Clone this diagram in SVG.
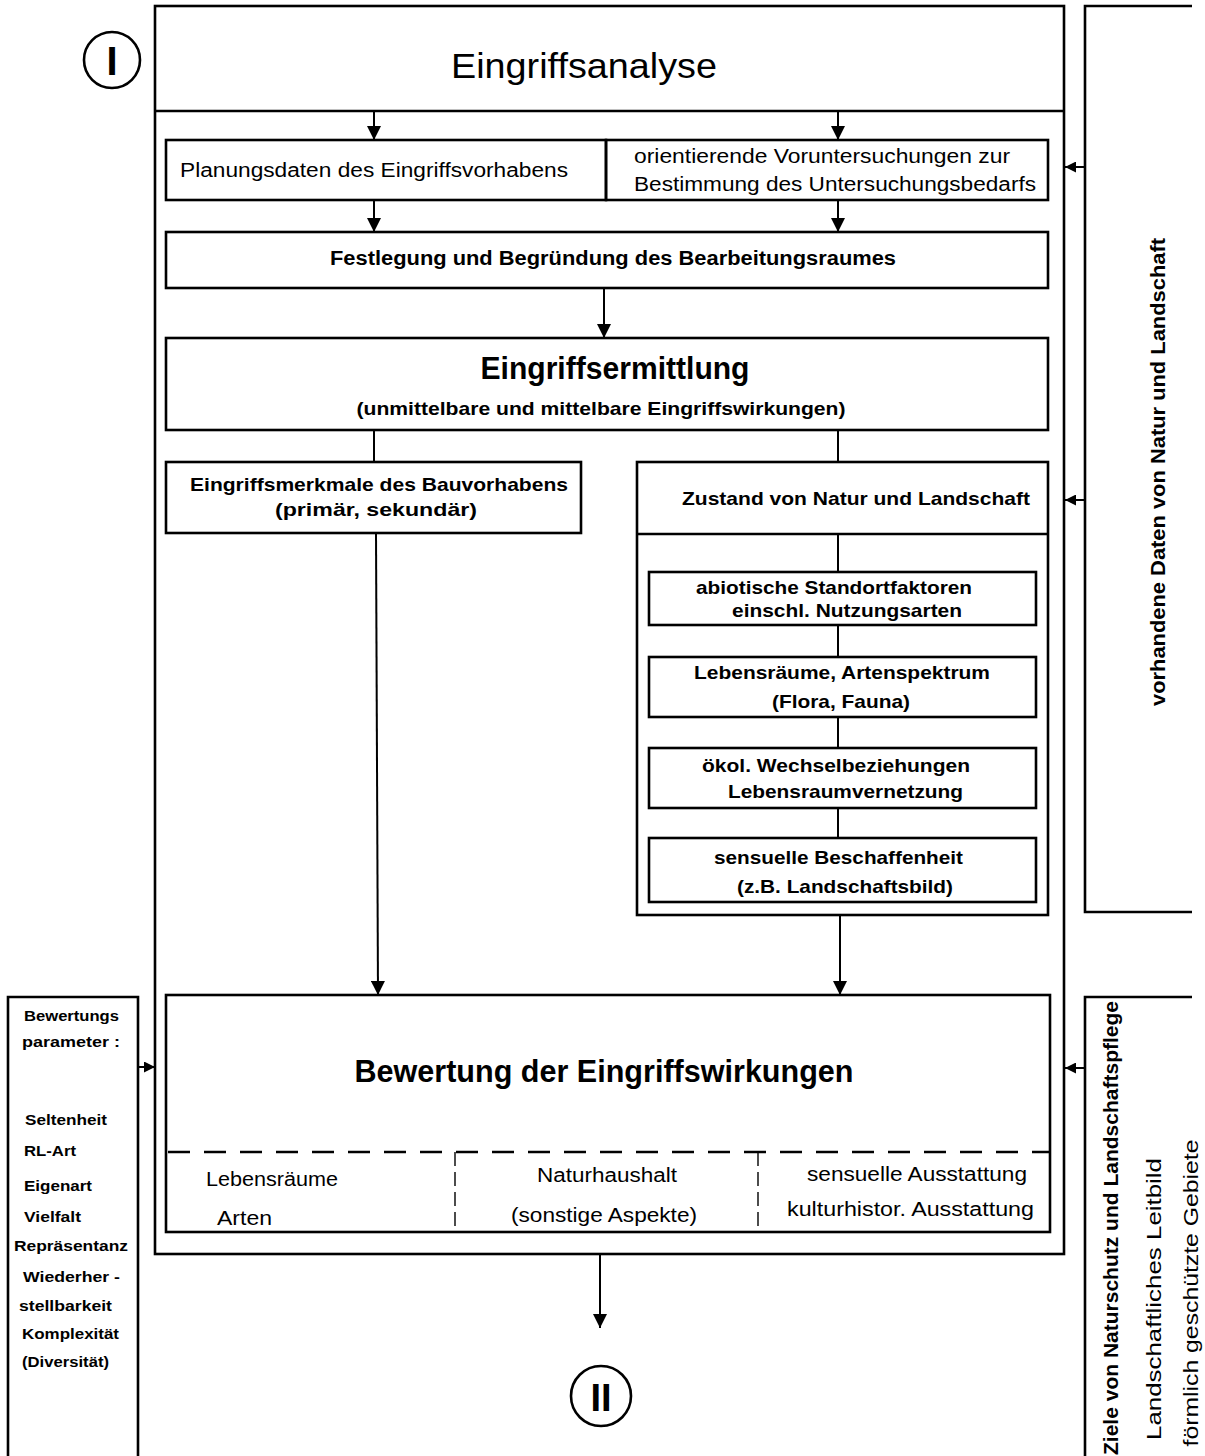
<svg xmlns="http://www.w3.org/2000/svg" width="1205" height="1456" viewBox="0 0 1205 1456">
  <style>
    .box { fill: none; stroke: #000; stroke-width: 2.6; }
    .ln { fill: none; stroke: #000; stroke-width: 2; }
    .thin { fill: none; stroke: #000; stroke-width: 1.4; }
    .t { font-family: "Liberation Sans", Arial, sans-serif; fill: #000; }
    .b { font-weight: bold; }
  </style>
  <defs>
    <marker id="arr" viewBox="0 0 10 10" refX="10" refY="5" markerWidth="14" markerHeight="14" markerUnits="userSpaceOnUse" orient="auto">
      <path d="M0,0 L10,5 L0,10 Z" fill="#000"/>
    </marker>
    <marker id="arrS" viewBox="0 0 10 10" refX="10" refY="5" markerWidth="11" markerHeight="11" markerUnits="userSpaceOnUse" orient="auto">
      <path d="M0,0 L10,5 L0,10 Z" fill="#000"/>
    </marker>
  </defs>

  <rect width="1205" height="1456" fill="#fff"/>

  <!-- chapter markers -->
  <g id="mark-I">
    <circle cx="112" cy="60" r="28" class="box"/>
    <text x="112" y="75" class="t b" font-size="40" text-anchor="middle">I</text>
  </g>
  <g id="mark-II">
    <circle cx="601" cy="1396" r="30" class="box"/>
    <text x="601" y="1411" class="t b" font-size="38" text-anchor="middle">II</text>
  </g>

  <!-- main frame -->
  <g id="frame">
    <rect x="155" y="6" width="909" height="1248" class="box"/>
    <line x1="155" y1="111" x2="1064" y2="111" class="box"/>
    <text x="584" y="78" class="t" font-size="35" text-anchor="middle" textLength="266" lengthAdjust="spacingAndGlyphs">Eingriffsanalyse</text>
  </g>

  <g id="planungsdaten">
    <rect x="166" y="140" width="440" height="60" class="box"/>
    <text x="180" y="177" class="t" font-size="20" textLength="388" lengthAdjust="spacingAndGlyphs">Planungsdaten des Eingriffsvorhabens</text>
  </g>
  <g id="voruntersuchungen">
    <rect x="606" y="140" width="442" height="60" class="box"/>
    <text x="634" y="163" class="t" font-size="20" textLength="376" lengthAdjust="spacingAndGlyphs">orientierende Voruntersuchungen zur</text>
    <text x="634" y="191" class="t" font-size="20" textLength="402" lengthAdjust="spacingAndGlyphs">Bestimmung des Untersuchungsbedarfs</text>
  </g>
  <g id="bearbeitungsraum">
    <rect x="166" y="232" width="882" height="56" class="box"/>
    <text x="330" y="265" class="t b" font-size="20" textLength="566" lengthAdjust="spacingAndGlyphs">Festlegung und Begründung des Bearbeitungsraumes</text>
  </g>
  <g id="eingriffsermittlung">
    <rect x="166" y="338" width="882" height="92" class="box"/>
    <text x="615" y="379" class="t b" font-size="31" text-anchor="middle" textLength="269" lengthAdjust="spacingAndGlyphs">Eingriffsermittlung</text>
    <text x="601" y="415" class="t b" font-size="19" text-anchor="middle" textLength="489" lengthAdjust="spacingAndGlyphs">(unmittelbare und mittelbare Eingriffswirkungen)</text>
  </g>
  <g id="eingriffsmerkmale">
    <rect x="166" y="462" width="415" height="71" class="box"/>
    <text x="190" y="491" class="t b" font-size="19" textLength="378" lengthAdjust="spacingAndGlyphs">Eingriffsmerkmale des Bauvorhabens</text>
    <text x="275" y="516" class="t b" font-size="19" textLength="202" lengthAdjust="spacingAndGlyphs">(primär, sekundär)</text>
  </g>
  <g id="zustand">
    <rect x="637" y="462" width="411" height="453" class="box"/>
    <line x1="637" y1="534" x2="1048" y2="534" class="box"/>
    <text x="682" y="505" class="t b" font-size="19" textLength="348" lengthAdjust="spacingAndGlyphs">Zustand von Natur und Landschaft</text>
  </g>
  <g id="abiotik">
    <rect x="649" y="572" width="387" height="53" class="box"/>
    <text x="696" y="594" class="t b" font-size="19" textLength="276" lengthAdjust="spacingAndGlyphs">abiotische Standortfaktoren</text>
    <text x="732" y="617" class="t b" font-size="19" textLength="230" lengthAdjust="spacingAndGlyphs">einschl. Nutzungsarten</text>
  </g>
  <g id="lebensraeume">
    <rect x="649" y="657" width="387" height="60" class="box"/>
    <text x="694" y="679" class="t b" font-size="19" textLength="296" lengthAdjust="spacingAndGlyphs">Lebensräume, Artenspektrum</text>
    <text x="772" y="708" class="t b" font-size="19" textLength="138" lengthAdjust="spacingAndGlyphs">(Flora, Fauna)</text>
  </g>
  <g id="wechselbeziehungen">
    <rect x="649" y="748" width="387" height="60" class="box"/>
    <text x="702" y="772" class="t b" font-size="19" textLength="268" lengthAdjust="spacingAndGlyphs">ökol. Wechselbeziehungen</text>
    <text x="728" y="798" class="t b" font-size="19" textLength="235" lengthAdjust="spacingAndGlyphs">Lebensraumvernetzung</text>
  </g>
  <g id="sensuell">
    <rect x="649" y="838" width="387" height="64" class="box"/>
    <text x="714" y="864" class="t b" font-size="19" textLength="249" lengthAdjust="spacingAndGlyphs">sensuelle Beschaffenheit</text>
    <text x="737" y="893" class="t b" font-size="19" textLength="216" lengthAdjust="spacingAndGlyphs">(z.B. Landschaftsbild)</text>
  </g>

  <g id="bewertung">
    <rect x="166" y="995" width="884" height="237" class="box"/>
    <text x="604" y="1082" class="t b" font-size="31" text-anchor="middle" textLength="499" lengthAdjust="spacingAndGlyphs">Bewertung der Eingriffswirkungen</text>
    <line x1="168" y1="1152" x2="1050" y2="1152" class="box" stroke-dasharray="22 14"/>
    <line x1="455" y1="1152" x2="455" y2="1232" class="thin" stroke-dasharray="14 6"/>
    <line x1="758" y1="1152" x2="758" y2="1232" class="thin" stroke-dasharray="14 6"/>
    <text x="206" y="1186" class="t" font-size="20" textLength="132" lengthAdjust="spacingAndGlyphs">Lebensräume</text>
    <text x="217" y="1225" class="t" font-size="20" textLength="55" lengthAdjust="spacingAndGlyphs">Arten</text>
    <text x="537" y="1182" class="t" font-size="20" textLength="140" lengthAdjust="spacingAndGlyphs">Naturhaushalt</text>
    <text x="511" y="1222" class="t" font-size="20" textLength="186" lengthAdjust="spacingAndGlyphs">(sonstige Aspekte)</text>
    <text x="807" y="1181" class="t" font-size="20" textLength="220" lengthAdjust="spacingAndGlyphs">sensuelle Ausstattung</text>
    <text x="787" y="1216" class="t" font-size="20" textLength="247" lengthAdjust="spacingAndGlyphs">kulturhistor. Ausstattung</text>
  </g>

  <!-- evaluation parameters panel -->
  <g id="parameter">
    <path d="M8,1460 L8,997 L138,997 L138,1460" class="box"/>
    <g class="t b" font-size="15">
      <text x="24" y="1021" textLength="95" lengthAdjust="spacingAndGlyphs">Bewertungs</text>
      <text x="22" y="1047" textLength="98" lengthAdjust="spacingAndGlyphs">parameter :</text>
      <text x="25" y="1125" textLength="82" lengthAdjust="spacingAndGlyphs">Seltenheit</text>
      <text x="24" y="1156" textLength="52" lengthAdjust="spacingAndGlyphs">RL-Art</text>
      <text x="24" y="1191" textLength="68" lengthAdjust="spacingAndGlyphs">Eigenart</text>
      <text x="24" y="1222" textLength="57" lengthAdjust="spacingAndGlyphs">Vielfalt</text>
      <text x="14" y="1251" textLength="114" lengthAdjust="spacingAndGlyphs">Repräsentanz</text>
      <text x="23" y="1282" textLength="97" lengthAdjust="spacingAndGlyphs">Wiederher -</text>
      <text x="19" y="1311" textLength="93" lengthAdjust="spacingAndGlyphs">stellbarkeit</text>
      <text x="22" y="1339" textLength="97" lengthAdjust="spacingAndGlyphs">Komplexität</text>
      <text x="22" y="1367" textLength="87" lengthAdjust="spacingAndGlyphs">(Diversität)</text>
    </g>
  </g>

  <!-- existing data panel -->
  <g id="vorhandene-daten">
    <path d="M1192,6 L1085,6 L1085,912 L1192,912" class="box"/>
    <text transform="translate(1165,472) rotate(-90)" class="t b" font-size="20" text-anchor="middle" textLength="468" lengthAdjust="spacingAndGlyphs">vorhandene Daten von Natur und Landschaft</text>
  </g>

  <!-- objectives panel -->
  <g id="ziele">
    <path d="M1192,997 L1085,997 L1085,1460" class="box"/>
    <text transform="translate(1118,1228) rotate(-90)" class="t b" font-size="20" text-anchor="middle" textLength="454" lengthAdjust="spacingAndGlyphs">Ziele von Naturschutz und Landschaftspflege</text>
    <text transform="translate(1161,1299) rotate(-90)" class="t" font-size="20" text-anchor="middle" textLength="282" lengthAdjust="spacingAndGlyphs">Landschaftliches Leitbild</text>
    <text transform="translate(1198,1293) rotate(-90)" class="t" font-size="20" text-anchor="middle" textLength="307" lengthAdjust="spacingAndGlyphs">förmlich geschützte Gebiete</text>
  </g>

  <!-- connectors -->
  <g id="connectors">
    <line x1="374" y1="111" x2="374" y2="140" class="ln" marker-end="url(#arr)"/>
    <line x1="838" y1="111" x2="838" y2="140" class="ln" marker-end="url(#arr)"/>
    <line x1="374" y1="200" x2="374" y2="232" class="ln" marker-end="url(#arr)"/>
    <line x1="838" y1="200" x2="838" y2="232" class="ln" marker-end="url(#arr)"/>
    <line x1="604" y1="288" x2="604" y2="338" class="ln" marker-end="url(#arr)"/>
    <line x1="374" y1="430" x2="374" y2="462" class="ln"/>
    <line x1="838" y1="430" x2="838" y2="462" class="ln"/>
    <line x1="838" y1="534" x2="838" y2="572" class="ln"/>
    <line x1="838" y1="625" x2="838" y2="657" class="ln"/>
    <line x1="838" y1="717" x2="838" y2="748" class="ln"/>
    <line x1="838" y1="808" x2="838" y2="838" class="ln"/>
    <line x1="376" y1="533" x2="378" y2="995" class="ln" marker-end="url(#arr)"/>
    <line x1="840" y1="915" x2="840" y2="995" class="ln" marker-end="url(#arr)"/>
    <line x1="600" y1="1254" x2="600" y2="1328" class="ln" marker-end="url(#arr)"/>
    <line x1="1085" y1="167" x2="1065" y2="167" class="ln" marker-end="url(#arrS)"/>
    <line x1="1085" y1="500" x2="1065" y2="500" class="ln" marker-end="url(#arrS)"/>
    <line x1="1085" y1="1068" x2="1065" y2="1068" class="ln" marker-end="url(#arrS)"/>
    <line x1="138" y1="1067" x2="155" y2="1067" class="ln" marker-end="url(#arrS)"/>
  </g>
</svg>
